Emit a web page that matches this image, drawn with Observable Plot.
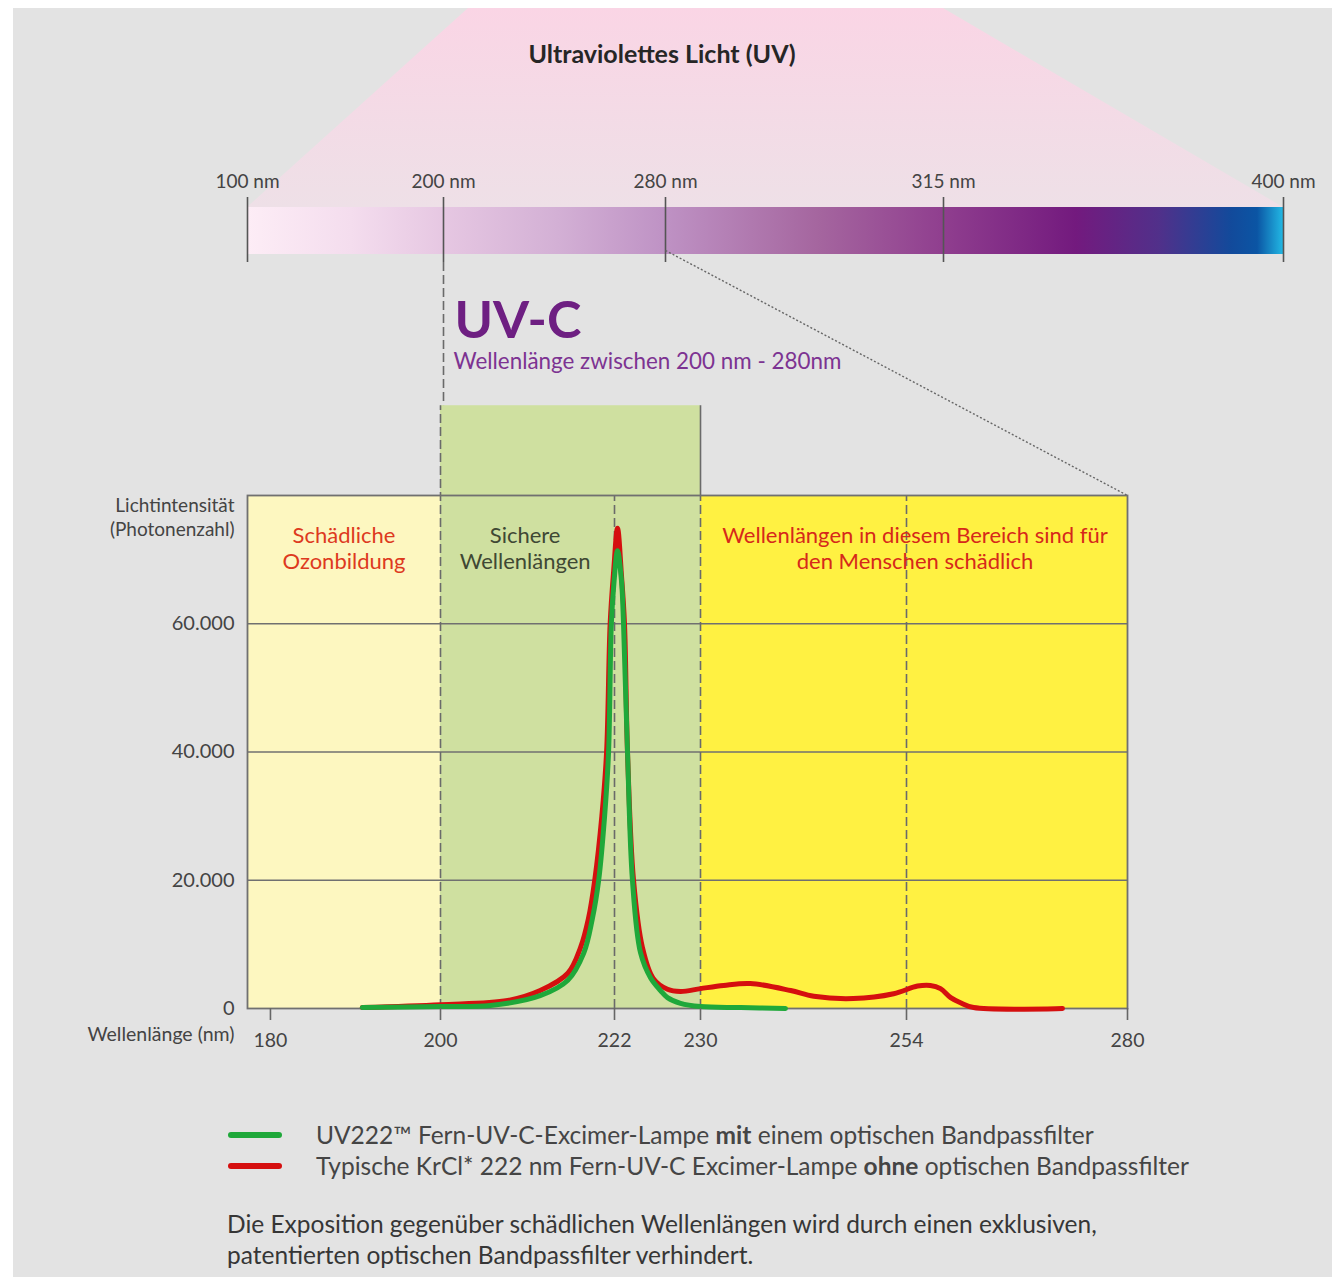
<!DOCTYPE html>
<html>
<head>
<meta charset="utf-8">
<script src="https://cdn.jsdelivr.net/npm/d3@7"></script>
<script src="https://cdn.jsdelivr.net/npm/@observablehq/plot@0.6"></script>
<style>
html, body { margin: 0; padding: 0; background: #fff; overflow: hidden; }
body { width: 1332px; height: 1277px; position: relative; font-family: Lato, "Open Sans", sans-serif; }
#bg { position: absolute; left: 13px; top: 8px; right: 0; bottom: 0; background: #e3e3e3; z-index: 0; }
#topWrap { position: absolute; left: 0; top: 0; z-index: 1; }
#mainWrap { position: absolute; left: 0; top: 0; z-index: 2; }
#title { position: absolute; top: 38px; left: 0; width: 1324px; text-align: center; font-weight: 700; font-size: 25px; color: #262626; z-index: 3; }
#legend { position: absolute; left: 228px; top: 1119px; z-index: 3; font-size: 24.5px; color: #454545; }
.row { display: flex; align-items: center; height: 31px; }
.sw { width: 54px; height: 6px; border-radius: 3px; margin-right: 34px; }
#caption { position: absolute; left: 227px; top: 1208px; z-index: 3; font-size: 24.5px; line-height: 31px; color: #363636; }
</style>
</head>
<body>
<div id="bg"></div>
<div id="title">Ultraviolettes Licht (UV)</div>
<div id="topWrap"></div>
<div id="mainWrap"></div>
<div id="legend"></div>
<div id="caption">Die Exposition gegenüber schädlichen Wellenlängen wird durch einen exklusiven,<br>patentierten optischen Bandpassfilter verhindert.</div>
<script>
// ---------- data ----------
const spectrumTicks = [100, 200, 280, 315, 400];
const xTicks = [180, 200, 222, 230, 254, 280];
const yTicks = [0, 20000, 40000, 60000];

// UV222 lamp with band-pass filter (green)
const greenNm  = [190.8, 200, 206.3, 212.6, 216.1, 218.1, 219.2, 220.0, 220.75, 221.25, 221.6, 221.95, 222.28, 222.65, 222.84, 223.21, 223.67, 224.42, 225.35, 226.28, 226.93, 228.14, 230, 234.7, 239.9];
const greenVal = [150, 300, 470, 2000, 4400, 8600, 14000, 20000, 30000, 40000, 60000, 66700, 71400, 66700, 60000, 40000, 20000, 8700, 4800, 2800, 1700, 800, 300, 150, 0];

// typical KrCl* lamp without filter (red)
const redNm  = [190.8, 200, 208.5, 212.6, 216.1, 217.7, 218.7, 219.5, 220.4, 221.0, 221.45, 221.9, 222.28, 222.65, 222.93, 223.21, 223.77, 224.6, 225.6, 226.93, 228.14, 230, 232.7, 235.8, 240.5, 243.2, 247.8, 252.5, 255.3, 256.8, 258.0, 259.2, 260.35, 261.9, 272.35];
const redVal = [150, 600, 1250, 2800, 5500, 9500, 14000, 20000, 30000, 40000, 60000, 68300, 74900, 67500, 60000, 40000, 20000, 9500, 4700, 3000, 2650, 3100, 3600, 3900, 2800, 1900, 1550, 2300, 3500, 3600, 3100, 1700, 900, 150, 0];

const zoneFrom   = [177.3, 200, 230];
const zoneTo     = [200, 230, 280];
const zoneLabels = ["Schädliche\nOzonbildung", "Sichere\nWellenlängen", "Wellenlängen in diesem Bereich sind für\nden Menschen schädlich"];

const legendLabels = [
  "UV222™ Fern-UV-C-Excimer-Lampe <b>mit</b> einem optischen Bandpassfilter",
  "Typische KrCl* 222 nm Fern-UV-C Excimer-Lampe <b>ohne</b> optischen Bandpassfilter"
];

// ---------- styling ----------
const zoneFill  = ["#fdf7c0", "#cfe0a0", "#fff142"];
const zoneTop   = [80000, 94000, 80000];
const zoneText  = ["#dd3a1e", "#3f4834", "#d6281a"];
const zoneDx    = [0, -34, 0];
const greenCol = "#1fa83a", redCol = "#d50f0f";

const green = greenNm.map((x, i) => ({x, y: greenVal[i]}));
const red = redNm.map((x, i) => ({x, y: redVal[i]}));
const zones = zoneFrom.map((f, i) => ({from: f, to: zoneTo[i], top: zoneTop[i], fill: zoneFill[i], label: zoneLabels[i], color: zoneText[i]}));

const fmt = d => d === 0 ? "0" : d3.format(",")(d).replace(/,/g, ".");

// piecewise wavelength scales (the reference axes are not evenly spaced)
const mainDomain = [177.3, 200, 222, 230, 254, 280], mainRange = [247, 440, 614, 700, 906, 1127];
const topDomain = [100, 200, 280, 315, 400], topRange = [247, 443, 665, 943, 1283];
const pwMain = d3.scaleLinear(mainDomain, mainRange);
const pwTop = d3.scaleLinear(topDomain, topRange);

// ---------- main chart ----------
const mainPlot = Plot.plot({
  width: 1332, height: 1070,
  marginTop: 495, marginBottom: 62, marginLeft: 247, marginRight: 205,
  style: {background: "transparent", overflow: "visible", fontFamily: "Lato, sans-serif", maxWidth: "none"},
  x: {transform: pwMain, domain: [247, 1127], range: [247, 1127]},
  y: {domain: [0, 80000]},
  color: {type: "identity"},
  marks: [
    Plot.rect(zones, {x1: "from", x2: "to", y1: 0, y2: "top", fill: "fill"}),
    Plot.ruleY([20000, 40000, 60000], {stroke: "#707070", strokeWidth: 1.6}),
    Plot.ruleX([200, 222, 230, 254], {y1: 0, y2: d => d === 200 ? 94000 : 80000, stroke: "#6a6a6a", strokeWidth: 1.6, strokeDasharray: "9,4"}),
    Plot.ruleX([230], {y1: 80000, y2: 94000, stroke: "#6a6a6a", strokeWidth: 1.6}),
    Plot.frame({stroke: "#707070", strokeWidth: 1.8}),
    ...zones.map((z, i) => Plot.text([z], {
      x: d => (d.from + d.to) / 2, text: "label", fill: "color",
      frameAnchor: "top", lineAnchor: "top", dy: 30, dx: zoneDx[i],
      fontSize: 22, lineHeight: 1.15
    })),
    Plot.line(red, {x: "x", y: "y", stroke: redCol, strokeWidth: 5, curve: "catmull-rom"}),
    Plot.line(green, {x: "x", y: "y", stroke: greenCol, strokeWidth: 5, curve: "catmull-rom"}),
    Plot.axisX(xTicks, {tickSize: 12, tickPadding: 13, fontSize: 19.5, fill: "#444", stroke: "#666", strokeWidth: 1.6, label: null, tickFormat: d => d}),
    Plot.axisY(yTicks, {tickSize: 0, tickPadding: 13, fontSize: 20, fill: "#444", tickFormat: fmt, label: null}),
    Plot.text(["Lichtintensität\n(Photonenzahl)"], {text: d => d, frameAnchor: "top-left", dx: -13, dy: -1, textAnchor: "end", lineAnchor: "top", fontSize: 19, lineHeight: 1.27, fill: "#444"}),
    Plot.text(["Wellenlänge (nm)"], {text: d => d, frameAnchor: "bottom-left", dx: -13, dy: 32, textAnchor: "end", fontSize: 19.5, fill: "#444"})
  ]
});
document.getElementById("mainWrap").appendChild(mainPlot);

// ---------- spectrum bar (top) ----------
const my = mainPlot.scale("y");
const cornerNm = pwTop.invert(pwMain(280));

const topPlot = Plot.plot({
  width: 1332, height: 500, margin: 0,
  style: {background: "transparent", overflow: "visible", fontFamily: "Lato, sans-serif", maxWidth: "none"},
  x: {transform: pwTop, domain: [0, 1332], range: [0, 1332], axis: null},
  y: {domain: [0, 500], range: [0, 500], axis: null},
  marks: [
    Plot.areaX([{y: 8, x1: 209, x2: 315}, {y: 207, x1: 100, x2: 400}], {y: "y", x1: "x1", x2: "x2", fill: "url(#pinkGrad)"}),
    Plot.rect([0], {x1: 100, x2: 400, y1: 207, y2: 254, fill: "url(#uvGrad)"}),
    Plot.ruleX(spectrumTicks, {y1: 197, y2: 262, stroke: "#555", strokeWidth: 1.6}),
    Plot.text(spectrumTicks, {x: d => d, y: 181, text: d => `${d} nm`, fontSize: 19, fill: "#444"}),
    Plot.ruleX([200], {y1: 262, y2: my.apply(94000), stroke: "#6a6a6a", strokeWidth: 1.6, strokeDasharray: "9,4"}),
    Plot.link([0], {x1: 280, y1: 250, x2: cornerNm, y2: my.apply(80000), stroke: "#666", strokeWidth: 1.4, strokeDasharray: "2,2"}),
    Plot.text(["UV-C"], {text: d => d, x: 200, y: 321, dx: 11, textAnchor: "start", fontSize: 52, fontWeight: 700, fill: "#6e1f82"}),
    Plot.text(["Wellenlänge zwischen 200 nm - 280nm"], {text: d => d, x: 200, y: 361, dx: 10, textAnchor: "start", fontSize: 22.4, fill: "#7d3392"})
  ]
});
const svgTop = d3.select(topPlot);
const defs = svgTop.insert("defs", ":first-child");
const ug = defs.append("linearGradient").attr("id", "uvGrad").attr("x1", 0).attr("x2", 1).attr("y1", 0).attr("y2", 0);
[[0, "#fdedf6"], [0.1, "#f4ddee"], [0.19, "#e6c7e2"], [0.3, "#d3b0d5"], [0.4, "#bf93c5"], [0.55, "#a5669f"], [0.67, "#903f8f"], [0.8, "#731a7e"], [0.88, "#51308a"], [0.95, "#124a9b"], [0.975, "#0b55a4"], [1, "#22b8e4"]]
  .forEach(([o, c]) => ug.append("stop").attr("offset", o).attr("stop-color", c));
const pg = defs.append("linearGradient").attr("id", "pinkGrad").attr("x1", 0).attr("x2", 0).attr("y1", 0).attr("y2", 1);
[[0, "#fad5e5"], [1, "#eee0e7"]].forEach(([o, c]) => pg.append("stop").attr("offset", o).attr("stop-color", c));
document.getElementById("topWrap").appendChild(topPlot);

// ---------- legend ----------
const legend = d3.select("#legend");
[greenCol, redCol].forEach((c, i) => {
  const row = legend.append("div").attr("class", "row");
  row.append("div").attr("class", "sw").style("background", c);
  row.append("span").html(legendLabels[i]);
});
</script>
</body>
</html>
